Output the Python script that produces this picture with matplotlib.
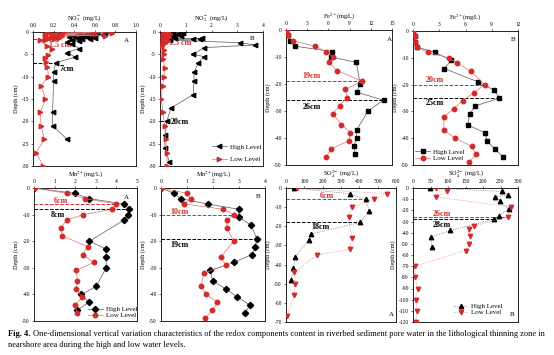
import matplotlib.pyplot as plt

plt.rcParams['font.family'] = ['Liberation Serif', 'DejaVu Serif']
plt.rcParams['mathtext.fontset'] = 'stix'
plt.rcParams['axes.unicode_minus'] = False

W, H = 554, 355
RED = '#d42a2a'

# ---- data (depth in cm, concentration in mg/L) ----
# NO3- A
no3a_high_x = [0.75, 0.70, 0.62, 0.45, 0.55, 0.68, 0.50, 0.40, 0.58, 0.47, 0.35, 0.52, 0.60, 0.44, 0.55,
               0.48, 0.38, 0.45, 0.33, 0.38, 0.45, 0.33, 0.41, 0.22, 0.20, 0.20, 0.19, 0.19, 0.33]
no3a_high_d = [0, -0.2, -0.3, -0.4, -0.5, -0.6, -0.7, -0.8, -0.9, -1.0, -1.1, -1.2, -1.3, -1.4, -1.5,
               -1.6, -1.8, -2.0, -2.2, -2.7, -3.7, -4.6, -5.6, -6.9, -9, -11, -18, -21, -24]
no3a_low_x = [0.30, 0.77, 0.15, 0.25, 0.60, 0.12, 0.20, 0.70, 0.18, 0.28, 0.13, 0.22, 0.17, 0.25, 0.14,
              0.20, 0.12, 0.07, 0.14, 0.18, 0.15, 0.12, 0.13, 0.14, 0.15, 0.08, 0.12, 0.07, 0.08, 0.11, 0.03, 0.10]
no3a_low_d = [0, -0.2, -0.3, -0.4, -0.5, -0.6, -0.7, -0.8, -0.9, -1.0, -1.1, -1.2, -1.3, -1.4, -1.5,
              -1.6, -1.7, -1.9, -3.2, -3.9, -5.1, -5.8, -6.7, -7.8, -10, -12, -15, -18, -21, -24, -27, -30]

# NO2- B
no2b_high_x = [0.5, 0.9, 0.7, 0.4, 0.8, 0.5, 0.3, 0.6, 1.3, 1.55, 1.65, 0.4, 3.1, 3.7, 1.7, 1.3, 1.7,
               1.48, 1.32, 1.32, 1.29, 0.43, 0.26, 0.21, 0.18, 0.36]
no2b_high_d = [0, -0.2, -0.4, -0.6, -0.8, -1.0, -1.2, -1.4, -1.6, -1.5, -1.4, -1.8, -2.4, -2.9, -3.5, -5,
               -5.5, -7, -9, -11, -14, -17, -20, -23, -26, -29]
no2b_low_x = [0.3, 0.15, 0.4, 0.1, 0.25, 0.2, 0.35, 0.1, 0.2, 0.15, 0.3, 0.1, 0.2, 0.09, 0.15, 0.15,
              0.12, 0.18, 0.15, 0.10, 0.05, 0.12, 0.18, 0.22, 0.26, 0.28]
no2b_low_d = [0, -0.2, -0.4, -0.6, -0.8, -1.0, -1.2, -1.4, -1.6, -1.8, -2.0, -2.2, -2.5, -3.2, -4, -5,
              -6, -8, -10, -12, -15, -18, -21, -24, -27, -30]

# Fe2+ A
fea_high_x = [0, 0.24, 0.57, 1.3, 6.5, 6.4, 9.95, 10.5, 10.0, 13.8, 11.6, 10.0, 10.0, 9.6, 9.8]
fea_high_d = [0, -2, -4, -6, -8, -10, -12, -20, -23, -26, -30, -37, -40, -43, -46]
fea_low_x = [0, 0.3, 0.96, 4.1, 5.7, 6.6, 6.1, 7.2, 10.8, 8.4, 8.7, 7.6, 6.6, 7.85, 9.1, 8.9, 6.4, 5.7]
fea_low_d = [0, -2, -4, -6, -8, -10, -12, -15, -19, -22, -25, -28, -31, -35, -38, -41, -44, -47]

# Fe2+ B
feb_high_x = [0, 0.2, 0.27, 0.47, 2.56, 4.38, 3.57, 7.44, 9.22, 9.88, 7.1, 6.47, 6.24, 8.26, 8.45, 9.34, 10.3]
feb_high_d = [0, -2, -4, -6, -8, -11, -14, -19, -22, -25, -28, -31, -35, -38, -41, -44, -47]
feb_low_x = [0, 0.2, 0.27, 0.47, 1.7, 4.1, 5.04, 6.6, 8.18, 6.98, 5.66, 4.65, 3.53, 3.53, 4.84, 6.7, 7.2, 6.43]
feb_low_d = [0, -2, -4, -6, -8, -10, -12, -15, -20, -23, -26, -29, -32, -37, -40, -43, -46, -49]

# Mn2+ A
mna_high_x = [0, 1.98, 2.69, 4.38, 4.61, 4.58, 4.38, 2.69, 3.5, 3.5, 3.5, 3.02, 2.3, 2.66, 2.08]
mna_high_d = [0, -2, -4, -6, -8, -10, -12, -20, -23, -26, -30, -37, -40, -43, -46]
mna_low_x = [0, 1.59, 2.48, 3.99, 3.81, 2.4, 1.59, 1.3, 1.36, 2.6, 2.37, 2.89, 2.05, 2.11, 2.05, 2.34, 2.01, 2.08]
mna_low_d = [0, -2, -4, -6, -8, -10, -12, -15, -18, -22, -25, -28, -31, -35, -38, -41, -44, -47]

# Mn2+ B
mnb_high_x = [0, 0.5, 0.76, 1.79, 2.99, 2.99, 3.47, 3.68, 3.63, 3.5, 2.8, 1.88, 2.0, 2.5, 2.94, 3.42, 3.23]
mnb_high_d = [0, -2, -4, -6, -8, -11, -14, -19, -22, -25, -28, -31, -35, -38, -41, -44, -47]
mnb_low_x = [0, 0.99, 1.14, 0.9, 2.4, 2.8, 2.53, 2.53, 2.8, 2.29, 2.5, 1.65, 1.54, 1.73, 2.17, 1.96, 1.71]
mnb_low_d = [0, -2, -4, -6, -8, -10, -12, -15, -20, -26, -29, -32, -37, -40, -43, -46, -49]

# SO4 2- A
so4a_high_x = [42, 350, 434, 454, 405, 139, 124, 51, 40, 26]
so4a_high_d = [0, -3, -6, -12, -18, -24, -27, -36, -42, -48]
so4a_low_x = [58, 551, 478, 359, 341, 359, 347, 168, 46, 49, 46, 4]
so4a_low_d = [0, -3, -6, -10, -15, -26, -32, -35, -44, -50, -56, -67]

# SO4 2- B
so4b_high_x = [49, 253, 270, 233, 249, 273, 245, 232, 106, 51, 54]
so4b_high_d = [0, -3, -6, -8, -12, -19, -25, -28, -38, -44, -53]
so4b_low_x = [65, 97, 66, 281, 270, 175, 159, 163, 160, 150, 6, 6, 13, 8, 11, 8]
so4b_low_d = [0, -3, -8, -17, -26, -34, -37, -43, -50, -56, -70, -80, -90, -100, -110, -120]

caption_1 = ('One-dimensional vertical variation characteristics of the redox components content in '
             'riverbed sediment pore water in the lithological thinning zone in')
caption_2 = 'nearshore area during the high and low water levels.'

fig = plt.figure(figsize=(W / 100, H / 100), dpi=100)


def px_axes(l, t, r, b):
    return fig.add_axes([l / W, 1 - b / H, (r - l) / W, (b - t) / H])


def panel(ax, hx, hd, lx, ld, hm, lm, xlim, xticks, ylim, yticks, xlabel, letter, letter_xy,
          ls='-', legend=None):
    ax.plot(hx, hd, color='0.35', lw=0.5, ls=ls, marker=hm, mfc='k', mec='k', ms=3.2,
            label='High Level', zorder=4)
    ax.plot(lx, ld, color='#e07070', lw=0.5, ls=ls, marker=lm, mfc=RED, mec=RED, ms=3.2,
            label='Low Level', zorder=4)
    ax.set_xlim(*xlim)
    ax.set_ylim(*ylim)
    ax.set_xticks(xticks)
    ax.set_yticks(yticks)
    ax.xaxis.tick_top()
    ax.xaxis.set_label_position('top')
    ax.set_xlabel(xlabel, fontsize=4.5, labelpad=2)
    ax.set_ylabel('Depth (cm)', fontsize=4.5, labelpad=2)
    ax.tick_params(labelsize=4, length=1.5, width=0.4, pad=1.5)
    for s in ax.spines.values():
        s.set_linewidth(0.6)
    ax.text(letter_xy[0], letter_xy[1], letter, fontsize=5, ha='center', va='center')
    if legend is not None:
        ax.legend(loc='lower left', bbox_to_anchor=legend[0], frameon=False, fontsize=5,
                  handlelength=2.2, handletextpad=0.4, labelspacing=legend[1], borderpad=0,
                  borderaxespad=0)


def mark(ax, depth, xend, color, label, lx, ly):
    ax.plot([0, xend], [depth, depth], color=color, ls='--', lw=0.7, zorder=2)
    ax.text(lx, ly, label, color=color, fontsize=5.8, fontweight='bold', ha='left', va='center', zorder=3)


# Row 1
ax = px_axes(33, 32, 136, 166)
panel(ax, no3a_high_x, no3a_high_d, no3a_low_x, no3a_low_d, '<', '>', (0, 1.0),
      [0.0, 0.2, 0.4, 0.6, 0.8, 1.0], (-30, 0), range(0, -31, -5), 'NO$_3^-$ (mg/L)', 'A', (0.91, -2))
ax.set_xticklabels(['0.0', '0.2', '0.4', '0.6', '0.8', '1.0'])
mark(ax, -1.5, 0.2, RED, '1.5 cm', 0.16, -2.9)
mark(ax, -7, 0.22, 'k', '7cm', 0.26, -8.3)

ax = px_axes(160, 32, 263, 166)
panel(ax, no2b_high_x, no2b_high_d, no2b_low_x, no2b_low_d, '<', '>', (0, 4),
      range(0, 5), (-30, 0), range(0, -31, -5), 'NO$_2^-$ (mg/L)', 'B', (3.57, -1.4),
      legend=((0.5, 0.03), 0.95))
mark(ax, -1.5, 0.3, RED, '1.5 cm', 0.35, -2.4)
mark(ax, -20, 0.26, 'k', '20cm', 0.42, -20.2)

ax = px_axes(286, 30, 392, 165)
panel(ax, fea_high_x, fea_high_d, fea_low_x, fea_low_d, 's', 'o', (0, 15),
      range(0, 16, 3), (-50, 0), range(0, -51, -10), 'Fe$^{2+}$(mg/L)', 'A', (14.6, -3.5))
mark(ax, -19, 10.8, RED, '19cm', 2.3, -17.2)
mark(ax, -26, 13.8, 'k', '26cm', 2.3, -28.6)

ax = px_axes(413, 31, 518, 165)
panel(ax, feb_high_x, feb_high_d, feb_low_x, feb_low_d, 's', 'o', (0, 12),
      range(0, 13, 3), (-50, 0), range(0, -51, -10), 'Fe$^{2+}$(mg/L)', 'B', (11.5, -3.1),
      legend=((0.02, 0.03), 0.05))
mark(ax, -20, 8.18, RED, '20cm', 1.5, -18.3)
mark(ax, -25, 9.88, 'k', '25cm', 1.5, -26.8)

# Row 2
ax = px_axes(34, 188, 137, 321)
panel(ax, mna_high_x, mna_high_d, mna_low_x, mna_low_d, 'D', 'o', (0, 5),
      range(0, 6), (-50, 0), range(0, -51, -10), 'Mn$^{2+}$(mg/L)', 'A', (4.5, -3.4),
      legend=((0.52, 0.02), 0.05))
mark(ax, -6, 3.99, RED, '6cm', 0.94, -5.0)
mark(ax, -8, 4.61, 'k', '8cm', 0.81, -10.2)

ax = px_axes(161, 188, 265, 321)
panel(ax, mnb_high_x, mnb_high_d, mnb_low_x, mnb_low_d, 'D', 'o', (0, 4),
      range(0, 5), (-50, 0), range(0, -51, -10), 'Mn$^{2+}$(mg/L)', 'B', (3.75, -3.1))
mark(ax, -10, 2.8, RED, '10cm', 0.35, -8.9)
mark(ax, -19, 3.68, 'k', '19cm', 0.35, -21.5)

ax = px_axes(286, 188, 396, 322)
panel(ax, so4a_high_x, so4a_high_d, so4a_low_x, so4a_low_d, '^', 'v', (0, 600),
      range(0, 601, 100), (-70, 0), range(0, -71, -10), 'SO$_4^{2-}$ (mg/L)', 'A', (575, -66),
      ls=':')
mark(ax, -6, 434, RED, '6cm', 186, -4)
mark(ax, -18, 405, 'k', '18cm', 140, -20.4)

ax = px_axes(413, 188, 518, 322)
panel(ax, so4b_high_x, so4b_high_d, so4b_low_x, so4b_low_d, '^', 'v', (0, 300),
      range(0, 301, 50), (-120, 0), range(0, -121, -10), 'SO$_4^{2-}$ (mg/L)', 'B', (283, -113),
      ls=':', legend=((0.38, 0.05), 0.05))
mark(ax, -26, 270, RED, '26cm', 56, -23.3)
mark(ax, -28, 232, 'k', '28cm', 56, -33.5)

# caption: fit first line to span x = 8 .. 545 px
renderer = fig.canvas.get_renderer()


def caption(size):
    t0 = fig.text(8 / W, 1 - 334 / H, 'Fig. 4.', fontsize=size, fontweight='bold', va='center')
    bb = t0.get_window_extent(renderer)
    t1 = fig.text((bb.x1 + 3) / W, 1 - 334 / H, caption_1, fontsize=size, va='center')
    t2 = fig.text(8 / W, 1 - 345 / H, caption_2, fontsize=size, va='center')
    return [t0, t1, t2]


texts = caption(6.0)
end = texts[1].get_window_extent(renderer).x1
for t in texts:
    t.remove()
caption(6.0 * (545 - 8) / (end - 8))

fig.savefig('out.png', dpi=100)
